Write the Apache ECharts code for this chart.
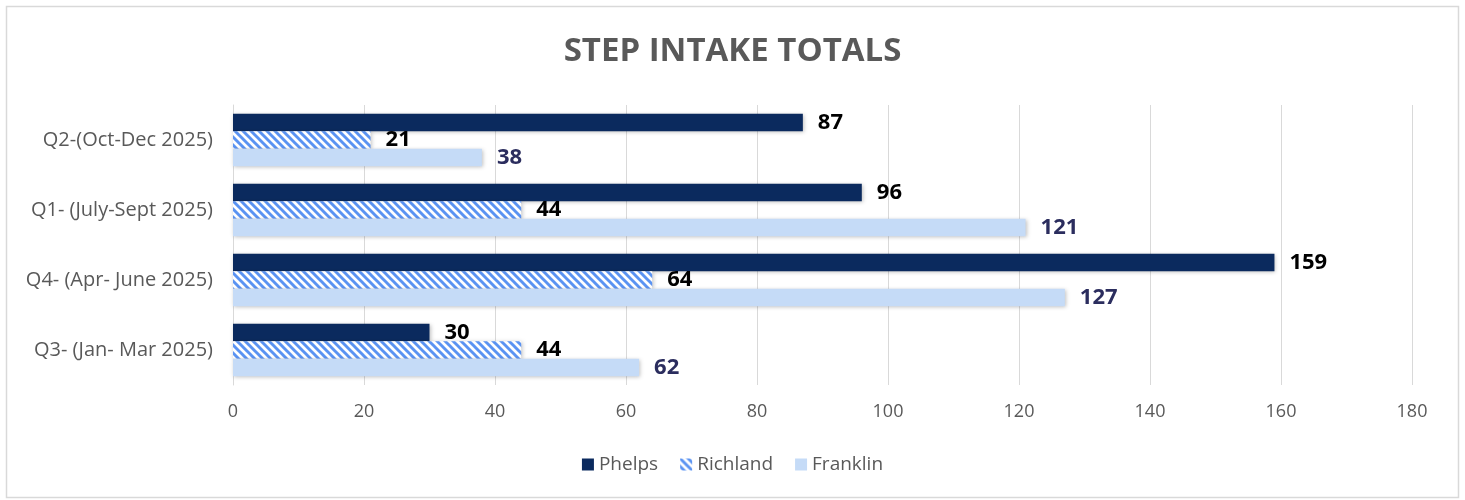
<!DOCTYPE html>
<html><head><meta charset="utf-8">
<script src="https://cdn.jsdelivr.net/npm/echarts@6/dist/echarts.min.js"></script>
<style>html,body{margin:0;padding:0;background:#fff}#c{width:1465px;height:500px}</style>
</head><body><div id="c"></div>
<script>
const categories = ['Q2-(Oct-Dec 2025)', 'Q1- (July-Sept 2025)', 'Q4- (Apr- June 2025)', 'Q3- (Jan- Mar 2025)'];
const phelps = [87, 96, 159, 30];
const richland = [21, 44, 64, 44];
const franklin = [38, 121, 127, 62];
const xTicks = [0, 20, 40, 60, 80, 100, 120, 140, 160, 180];

function stripe() {
  const s = 8;
  const c = document.createElement('canvas');
  c.width = s; c.height = s;
  const g = c.getContext('2d');
  g.fillStyle = '#fff'; g.fillRect(0, 0, s, s);
  g.strokeStyle = '#5a93f2'; g.lineWidth = 2.9;
  g.beginPath();
  for (let k = -s; k <= s; k += s) { g.moveTo(k - 2, -2); g.lineTo(k + s + 2, s + 2); }
  g.stroke();
  return c;
}
const pattern = { image: stripe(), repeat: 'repeat' };
const font = 'Open Sans';
const shadow = { shadowBlur: 4, shadowColor: 'rgba(0,0,0,0.25)', shadowOffsetX: 1, shadowOffsetY: 1 };

const chart = echarts.init(document.getElementById('c'));
chart.setOption({
  animation: false,
  textStyle: { fontFamily: font },
  title: { text: 'STEP INTAKE TOTALS', left: 'center', top: 30,
    textStyle: { fontSize: 33, fontWeight: 'bold', color: '#595959', fontFamily: font } },
  graphic: [{ type: 'rect', shape: { x: 6.5, y: 6.5, width: 1452, height: 491 },
    style: { fill: 'none', stroke: '#d9d9d9', lineWidth: 1.5 } }],
  legend: { bottom: 21, left: 'center', icon: 'rect', itemWidth: 12, itemHeight: 12, itemGap: 22,
    textStyle: { fontSize: 19, color: '#595959', fontFamily: font }, data: ['Phelps', 'Richland', 'Franklin'] },
  grid: { left: 233, right: 53, top: 105, bottom: 115, containLabel: false },
  xAxis: { type: 'value', min: 0, max: 180, interval: 20,
    axisLine: { show: false }, axisTick: { show: false },
    splitLine: { lineStyle: { color: '#d9d9d9', width: 1 } },
    axisLabel: { fontSize: 18, color: '#595959', margin: 18,
      formatter: v => xTicks.includes(v) ? String(v) : '' } },
  yAxis: { type: 'category', data: categories, inverse: true,
    axisLine: { lineStyle: { color: '#d9d9d9' } }, axisTick: { show: false },
    axisLabel: { fontSize: 20, color: '#595959', margin: 20 } },
  series: [
    { name: 'Phelps', type: 'bar', data: phelps, barGap: '0%', barCategoryGap: '25%',
      itemStyle: Object.assign({ color: '#0b2a5e' }, shadow),
      label: { show: true, position: 'right', distance: 15, fontSize: 22, fontWeight: 'bold', color: '#000' } },
    { name: 'Richland', type: 'bar', data: richland, barGap: '0%', barCategoryGap: '25%',
      itemStyle: Object.assign({ color: pattern }, shadow),
      label: { show: true, position: 'right', distance: 15, fontSize: 22, fontWeight: 'bold', color: '#000' } },
    { name: 'Franklin', type: 'bar', data: franklin, barGap: '0%', barCategoryGap: '25%',
      itemStyle: Object.assign({ color: '#c5dbf7' }, shadow),
      label: { show: true, position: 'right', distance: 15, fontSize: 22, fontWeight: 'bold', color: '#2b2d5e' } }
  ]
});
</script></body></html>
